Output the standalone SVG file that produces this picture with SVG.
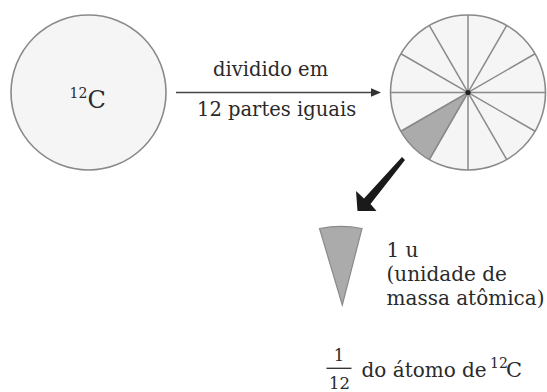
<svg xmlns="http://www.w3.org/2000/svg" width="547" height="392" viewBox="0 0 547 392">
<style>
.circ{fill:#f5f5f5;stroke:#8a8a8a;stroke-width:1.6}
.rad{stroke:#8a8a8a;stroke-width:1.5;fill:none}
.shade{fill:#ababab;stroke:#8a8a8a;stroke-width:1.2}
text{font-family:"DejaVu Serif","Liberation Serif",serif;fill:#2a2a2a}
.t{font-size:19.5px}
.r{font-size:20px}
.sup{font-size:14px}
.fr{font-size:16.5px}
</style>
<rect width="547" height="392" fill="#ffffff"/>
<g id="atom">
<circle class="circ" cx="88.5" cy="92.5" r="77.5"/>
<text x="69.5" y="98" class="sup">12</text>
<text x="87.5" y="108" style="font-size:24px">C</text>
</g>
<g id="divided">
<circle class="circ" cx="468" cy="92.5" r="77.5"/>
<path class="shade" d="M468,92.5 L400.9,131.25 A77.5,77.5 0 0 0 429.25,159.6 Z"/>
<g class="rad">
<line x1="390.5" y1="92.5" x2="545.5" y2="92.5"/>
<line x1="468" y1="15" x2="468" y2="170"/>
<line x1="535.1" y1="131.25" x2="400.9" y2="53.75"/>
<line x1="400.9" y1="131.25" x2="535.1" y2="53.75"/>
<line x1="506.75" y1="159.6" x2="429.25" y2="25.4"/>
<line x1="429.25" y1="159.6" x2="506.75" y2="25.4"/>
</g>
<circle cx="468" cy="92.5" r="2.6" fill="#222"/>
</g>
<g id="piece">
<path class="shade" d="M319.5,228.5 A110,110 0 0 1 362,228.5 L342.3,305 Z"/>
<text class="r" x="386.5" y="257">1 u</text>
<text class="r" x="386.5" y="281">(unidade de</text>
<text class="r" x="386.5" y="305">massa atômica)</text>
</g>
<g id="fraction">
<text class="fr" x="339" y="361" text-anchor="middle">1</text>
<line x1="326.5" y1="368.3" x2="351.5" y2="368.3" stroke="#2a2a2a" stroke-width="1.3"/>
<text class="fr" x="339.5" y="388.5" text-anchor="middle">12</text>
<text class="r" x="361.5" y="376.5">do átomo de</text>
<text class="sup" x="490" y="368">12</text>
<text x="506" y="377" style="font-size:21px">C</text>
</g>
<g id="connectors">
<line x1="176" y1="92.5" x2="373" y2="92.5" stroke="#444" stroke-width="1.3"/>
<polygon points="381,92.5 371,88.3 371,96.7" fill="#333"/>
<text class="t" x="213" y="76">dividido em</text>
<text class="t" x="197" y="115.5">12 partes iguais</text>
<path d="M357.5,211 L356,191 L364,198.5 L402,157 L405,160 L370.5,204 L376.5,211 Z" fill="#1a1a1a"/>
</g>
</svg>
